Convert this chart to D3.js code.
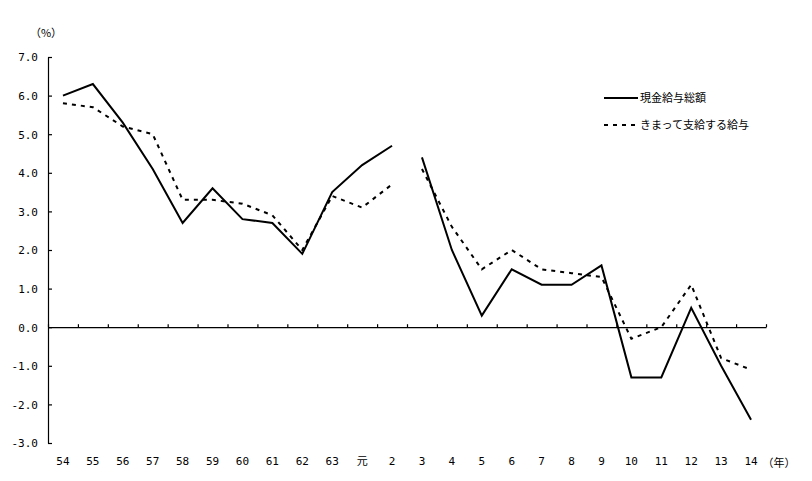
<!DOCTYPE html>
<html>
<head>
<meta charset="utf-8">
<script src="https://cdn.jsdelivr.net/npm/d3@7"></script>
<style>
  body { margin: 0; background: #fff; }
  text { font-family: "Noto Sans CJK JP", "DejaVu Sans Mono", sans-serif; font-size: 11px; fill: #000; }
  .num text { font-family: "DejaVu Sans Mono", monospace; font-size: 11px; }
</style>
</head>
<body>
<div id="chartHolder"></div>
<script>
// data
var categories = ['54','55','56','57','58','59','60','61','62','63','元','2',
                  '3','4','5','6','7','8','9','10','11','12','13','14'];
var totalPay   = [6.0, 6.3, 5.3, 4.1, 2.7, 3.6, 2.8, 2.7, 1.9, 3.5, 4.2, 4.7,
                  4.4, 2.0, 0.3, 1.5, 1.1, 1.1, 1.6, -1.3, -1.3, 0.5, -1.0, -2.4];
var regularPay = [5.8, 5.7, 5.2, 5.0, 3.3, 3.3, 3.2, 2.9, 2.0, 3.4, 3.1, 3.7,
                  4.1, 2.6, 1.5, 2.0, 1.5, 1.4, 1.3, -0.3, 0.0, 1.1, -0.8, -1.1];
var yTicks = [-3, -2, -1, 0, 1, 2, 3, 4, 5, 6, 7];
var seriesNames = ['現金給与総額', 'きまって支給する給与'];
var breakAt = 12; // lines are not joined between "2" and "3"

var svg = d3.select('#chartHolder').append('svg').attr('width', 812).attr('height', 481);

var x = d3.scaleBand().domain(categories).range([48, 766]);
var y = d3.scaleLinear().domain([-3, 7]).range([443, 57]);

// y axis
var yAxis = svg.append('g').attr('class', 'num').attr('transform', 'translate(48,0)')
  .call(d3.axisLeft(y).tickValues(yTicks).tickSize(-4).tickSizeOuter(0).tickPadding(10)
    .tickFormat(function (d) { return d.toFixed(1); }));
yAxis.selectAll('path, line').attr('stroke', '#000').attr('stroke-width', 1.2);
yAxis.selectAll('text').attr('dy', '0.35em');

// zero line with ticks between categories
var edges = d3.scaleLinear().domain([0, categories.length]).range(x.range());
var zeroAxis = svg.append('g').attr('transform', 'translate(0,' + y(0) + ')')
  .call(d3.axisTop(edges).ticks(categories.length).tickSize(3).tickSizeOuter(0).tickFormat(''));
zeroAxis.selectAll('path, line').attr('stroke', '#000').attr('stroke-width', 1.2);

// category labels
var xAxis = svg.append('g').attr('class', 'num').attr('transform', 'translate(0,443)')
  .call(d3.axisBottom(x).tickSize(0).tickPadding(14));
xAxis.select('.domain').remove();
xAxis.selectAll('text').filter(function (d) { return d === '元'; })
  .style('font-family', '"Noto Sans CJK JP", sans-serif');

svg.append('text').attr('x', 46).attr('y', 37).attr('text-anchor', 'middle').text('（%）');
svg.append('text').attr('x', 779).attr('y', 467).attr('text-anchor', 'middle').text('（年）');

var line = d3.line()
  .x(function (d) { return x(d.c) + x.bandwidth() / 2; })
  .y(function (d) { return y(d.v); });

function pieces(values) {
  var pts = values.map(function (v, i) { return { c: categories[i], v: v }; });
  return [pts.slice(0, breakAt), pts.slice(breakAt)];
}

var styles = [
  { dash: null, width: 2 },
  { dash: '4,5', width: 2 }
];

[regularPay, totalPay].forEach(function (vals, k) {
  var s = styles[1 - k];
  svg.append('g').selectAll('path').data(pieces(vals)).enter().append('path')
    .attr('d', line)
    .attr('fill', 'none')
    .attr('stroke', '#000')
    .attr('stroke-width', s.width)
    .attr('stroke-dasharray', s.dash);
});

// legend
var legend = svg.append('g');
seriesNames.forEach(function (name, i) {
  var ly = 98 + i * 27;
  legend.append('line').attr('x1', 604).attr('x2', 638).attr('y1', ly).attr('y2', ly)
    .attr('stroke', '#000').attr('stroke-width', 2)
    .attr('stroke-dasharray', styles[i].dash);
  legend.append('text').attr('x', 640).attr('y', ly).attr('dy', '0.35em').text(name);
});
</script>
</body>
</html>
